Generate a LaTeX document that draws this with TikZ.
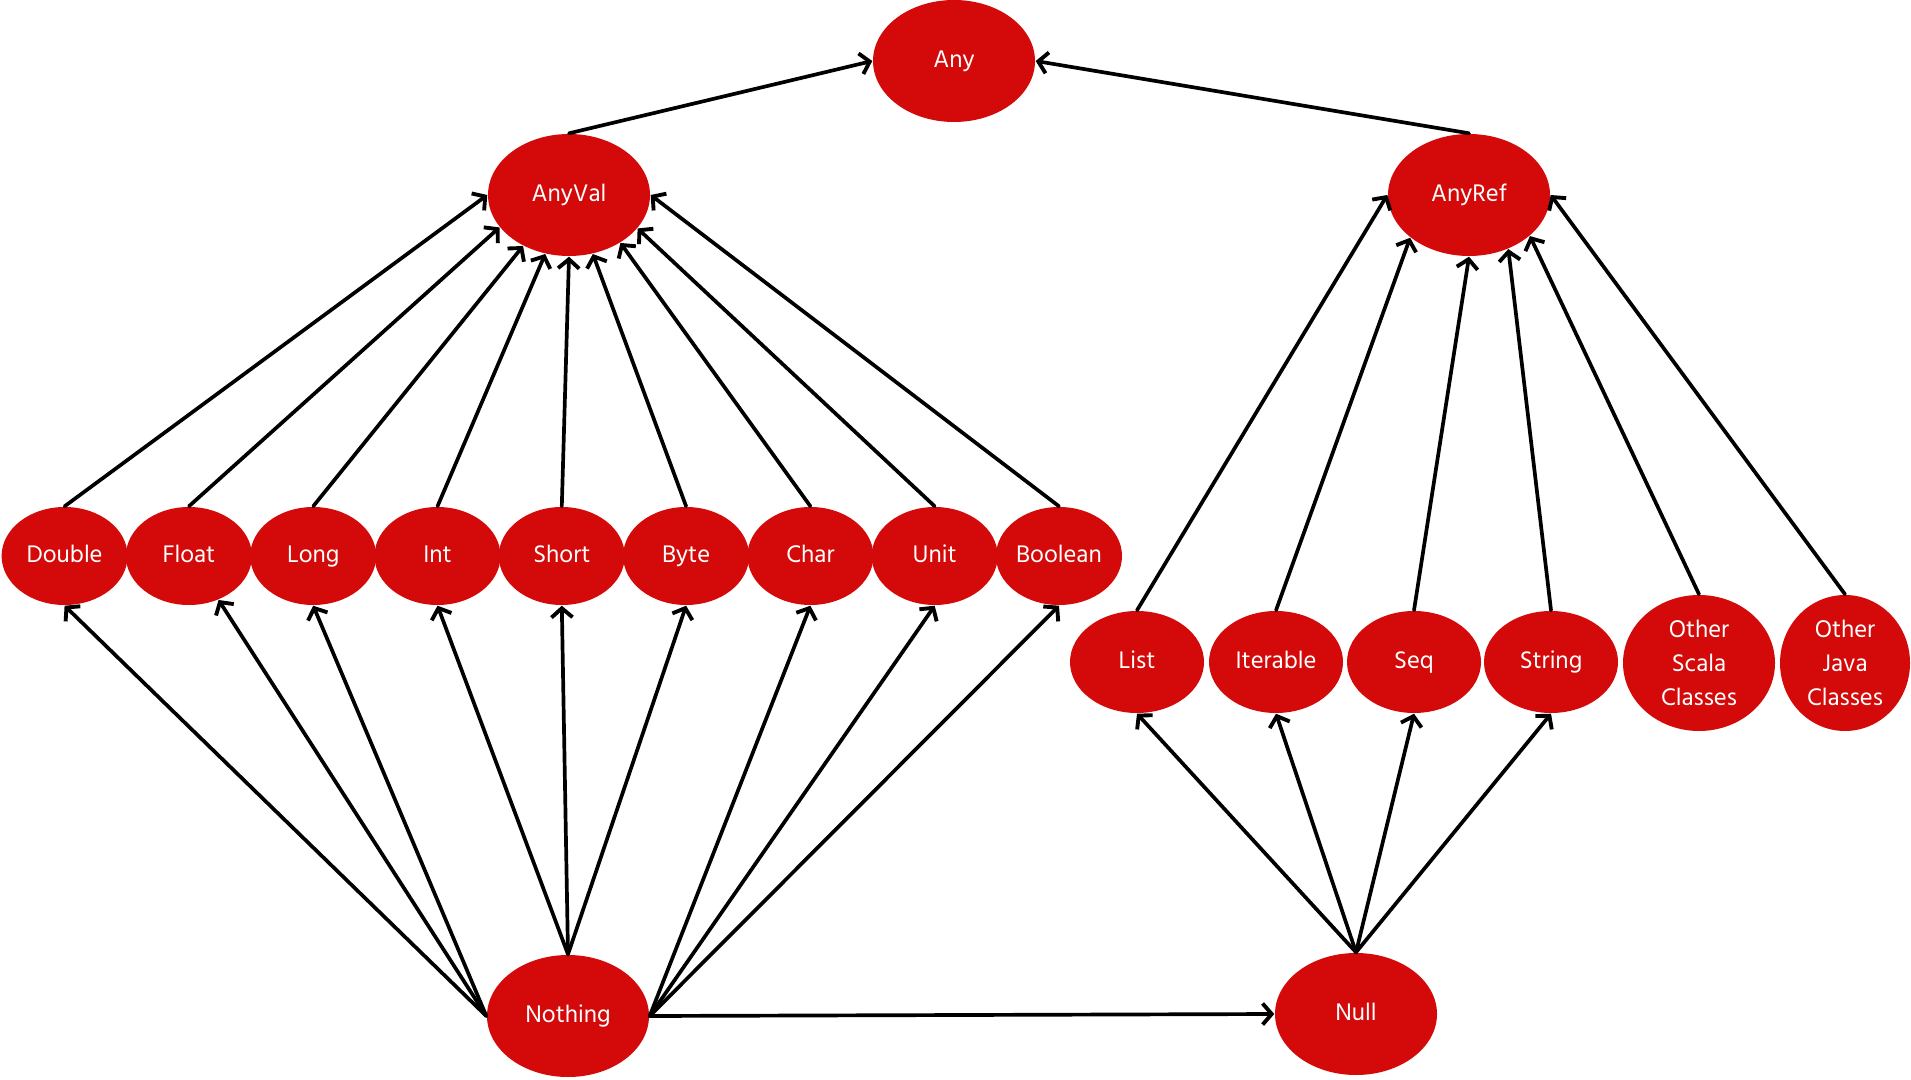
\documentclass[tikz,border=0pt]{standalone}
\usepackage{fontspec}
\setmainfont{Hind Siliguri}
\usetikzlibrary{arrows.meta, shapes.geometric}
\definecolor{typeFill}{HTML}{D40A0A}
\definecolor{typeLine}{HTML}{000000}
\tikzset{
  typefig/.style={
    every node/.append style={font=\fontsize{7}{9.6}\selectfont},
    >={Straight Barb[length=2.6pt, width=6pt, line width=1.1pt]},
  },
  typenode/.style={
    ellipse, fill=typeFill, text=white, align=center, inner sep=0pt,
    minimum width=16.2mm, minimum height=12.2mm,
    text height=5.1pt, text depth=1.6pt,
  },
  valnode/.style={typenode, minimum width=12.6mm, minimum height=9.8mm},
  refnode/.style={typenode, minimum width=13.4mm, minimum height=10.2mm},
  % Knoten mit drei Textzeilen
  tallnode/.style={typenode, minimum width=15.2mm, minimum height=13.6mm,
    text height={}, text depth={}},
  sub/.style={draw=typeLine, line width=1.05pt, line cap=round, ->},
}

\begin{document}
\begin{tikzpicture}[typefig]
  \useasboundingbox (0,0) rectangle (19.11,-10.8);
  \node[typenode] (Any) at (9.54,-0.61) {Any};
  \node[typenode] (AnyVal) at (5.69,-1.95) {AnyVal};
  \node[typenode] (AnyRef) at (14.69,-1.95) {AnyRef};
  \node[valnode] (Double) at (0.646,-5.56) {Double};
  \node[valnode] (Float) at (1.889,-5.56) {Float};
  \node[valnode] (Long) at (3.132,-5.56) {Long};
  \node[valnode] (Int) at (4.375,-5.56) {Int};
  \node[valnode] (Short) at (5.618,-5.56) {Short};
  \node[valnode] (Byte) at (6.861,-5.56) {Byte};
  \node[valnode] (Char) at (8.104,-5.56) {Char};
  \node[valnode] (Unit) at (9.347,-5.56) {Unit};
  \node[valnode] (Boolean) at (10.59,-5.56) {Boolean};
  \node[refnode] (List) at (11.37,-6.62) {List};
  \node[refnode] (Iterable) at (12.76,-6.62) {Iterable};
  \node[refnode] (Seq) at (14.14,-6.62) {Seq};
  \node[refnode] (String) at (15.51,-6.62) {String};
  \node[tallnode] (OtherScala) at (16.99,-6.63) {Other\\Scala\\Classes};
  \node[tallnode, minimum width=13.0mm] (OtherJava) at (18.45,-6.63) {Other\\Java\\Classes};
  \node[typenode] (Nothing) at (5.68,-10.16) {Nothing};
  \node[typenode] (Null) at (13.56,-10.14) {Null};
  \draw[sub] (AnyVal.north) -- (Any.west);
  \draw[sub] (AnyRef.north) -- (Any.east);
  \draw[sub] (Double.north) -- (AnyVal.west);
  \draw[sub] (Float.north) -- (AnyVal.205);
  \draw[sub] (Long.north) -- (AnyVal.228);
  \draw[sub] (Int.north) -- (AnyVal.248);
  \draw[sub] (Short.north) -- (AnyVal.south);
  \draw[sub] (Byte.north) -- (AnyVal.292);
  \draw[sub] (Char.north) -- (AnyVal.317);
  \draw[sub] (Unit.north) -- (AnyVal.334);
  \draw[sub] (Boolean.north) -- (AnyVal.east);
  \draw[sub] (List.north) -- (AnyRef.west);
  \draw[sub] (Iterable.north) -- (AnyRef.216);
  \draw[sub] (Seq.north) -- (AnyRef.south);
  \draw[sub] (String.north) -- (AnyRef.306);
  \draw[sub] (OtherScala.north) -- (AnyRef.326);
  \draw[sub] (OtherJava.north) -- (AnyRef.east);
  \draw[sub] (Nothing.west) -- (Double.south);
  \draw[sub] (Nothing.west) -- (Float.304);
  \draw[sub] (Nothing.west) -- (Long.south);
  \draw[sub] (Nothing.north) -- (Int.south);
  \draw[sub] (Nothing.north) -- (Short.south);
  \draw[sub] (Nothing.north) -- (Byte.south);
  \draw[sub] (Nothing.east) -- (Char.south);
  \draw[sub] (Nothing.east) -- (Unit.south);
  \draw[sub] (Nothing.east) -- (Boolean.south);
  \draw[sub] (Nothing.east) -- (Null.west);
  \draw[sub] (Null.north) -- (List.south);
  \draw[sub] (Null.north) -- (Iterable.south);
  \draw[sub] (Null.north) -- (Seq.south);
  \draw[sub] (Null.north) -- (String.south);
\end{tikzpicture}
\end{document}
